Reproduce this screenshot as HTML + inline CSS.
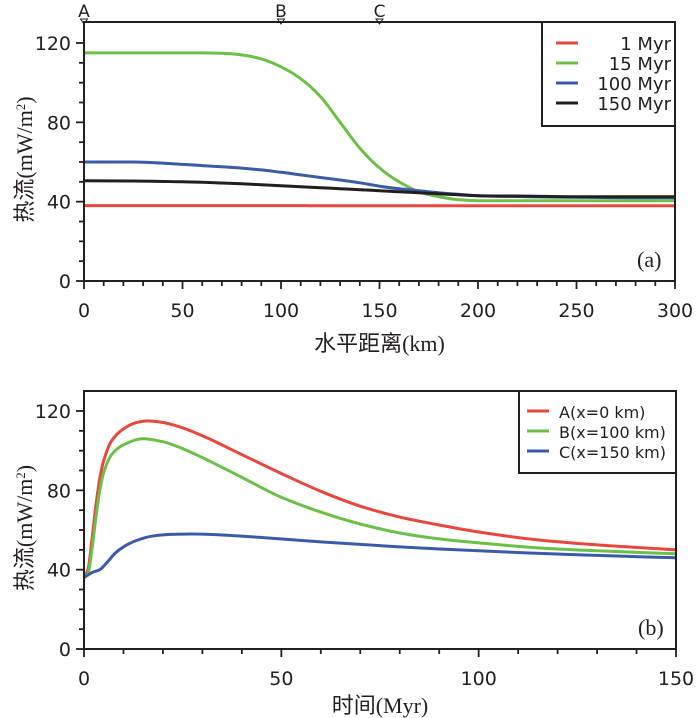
<!DOCTYPE html>
<html><head><meta charset="utf-8"><style>
body{margin:0;background:#fff;}
svg{display:block;}
text{font-family:"DejaVu Sans","Liberation Sans","Noto Sans CJK SC",sans-serif;fill:#231f20;}
text.serif{font-family:"Liberation Serif","Noto Sans CJK SC",serif;}
</style></head><body>
<svg id="fig" width="700" height="718" viewBox="0 0 700 718" xmlns="http://www.w3.org/2000/svg"></svg>
<script>
// ---- Panel (a) data ----
const aDistKm = [0,25,50,60,70,80,90,100,110,120,130,140,150,160,170,180,190,200,225,250,275,300];
const a1Myr   = [38,38,38,38,38,38,38,38,38,37.9,37.9,37.9,37.9,37.9,37.9,37.9,37.9,37.9,37.9,37.9,37.9,37.9];
const a15Myr  = [115,115,115,115,114.8,114,112,108,102,93,80,67,57,50,45,42.5,41,40.5,40.5,40.5,40.5,40.5];
const a100Myr = [60,60,58.8,58.2,57.6,56.9,56,54.8,53.5,52.2,50.9,49.5,47.8,46.5,45.5,44.5,43.7,43,42.5,42.2,42,42];
const a150Myr = [50.5,50.4,50,49.8,49.4,49,48.5,48,47.5,47,46.5,46,45.5,45,44.5,44,43.5,43,42.8,42.5,42.5,42.5];
const aSeries = [["1 Myr",a1Myr,"#e8473f"],["15 Myr",a15Myr,"#6cc04a"],["100 Myr",a100Myr,"#3a5ca8"],["150 Myr",a150Myr,"#231f20"]];
const aXTicks = [0,50,100,150,200,250,300];
const aYTicks = [0,40,80,120];
const markers = [["A",0],["B",100],["C",150]];
// ---- Panel (b) data ----
const bTimeA = [0,1,2,3,4,5,7,10,13,16,20,25,30,40,50,60,70,80,90,100,115,130,150];
const bA     = [36,40,55,72,86,95,105,111,114,115,114.2,111.5,107.5,98,88.5,79.5,72,66.5,62.5,59,55,52.5,50];
const bTimeB = [0,1,2,3,4,5,7,10,15,20,25,30,40,50,60,70,80,90,100,115,130,150];
const bB     = [36,38,50,66,80,89,98,103,106,104.5,101,96.5,86.5,76.5,69,63,58.5,55.5,53.5,51,49.5,48];
const bTimeC = [0,2,4,6,8,10,13,17,22,28,35,45,60,80,100,125,150];
const bC     = [36,38.5,40,44,48.5,51.5,54.5,56.8,57.8,58,57.5,56.2,54,51.5,49.5,47.5,46];
const bSeries = [["A(x=0 km)",bTimeA,bA,"#e8473f"],["B(x=100 km)",bTimeB,bB,"#6cc04a"],["C(x=150 km)",bTimeC,bC,"#3a5ca8"]];
const bXTicks = [0,50,100,150];
const bYTicks = [0,40,80,120];

const NS="http://www.w3.org/2000/svg";
const svg=document.getElementById('fig');
function el(tag,attrs,parent){const e=document.createElementNS(NS,tag);for(const k in attrs)e.setAttribute(k,attrs[k]);(parent||svg).appendChild(e);return e;}
function txt(s,attrs,parent){const t=el('text',attrs,parent);t.textContent=s;return t;}
function monoPath(pts){
  const n=pts.length, dx=[], m=[], t=new Array(n);
  for(let i=0;i<n-1;i++){dx[i]=pts[i+1][0]-pts[i][0];m[i]=(pts[i+1][1]-pts[i][1])/dx[i];}
  t[0]=m[0];t[n-1]=m[n-2];
  for(let i=1;i<n-1;i++){ if(m[i-1]*m[i]<=0) t[i]=0; else { const w1=2*dx[i]+dx[i-1], w2=dx[i]+2*dx[i-1]; t[i]=(w1+w2)/(w1/m[i-1]+w2/m[i]); } }
  let d="M"+pts[0][0].toFixed(1)+","+pts[0][1].toFixed(1);
  for(let i=0;i<n-1;i++){
    const h=dx[i]/3;
    d+=" C"+(pts[i][0]+h).toFixed(1)+","+(pts[i][1]+t[i]*h).toFixed(1)+" "+(pts[i+1][0]-h).toFixed(1)+","+(pts[i+1][1]-t[i+1]*h).toFixed(1)+" "+pts[i+1][0].toFixed(1)+","+pts[i+1][1].toFixed(1);
  }
  return d;
}
function panel(cfg){
  const g=el('g',{});
  
  
  const {L,R,T,B,xmax,ymax}=cfg;
  const yTop=cfg.yAt120;
  const sx=v=>L+(R-L)*v/xmax;
  const sy=v=>B-(B-yTop)*v/ymax;
  cfg.series.forEach(s=>{
    const pts=s.x.map((xv,i)=>[sx(xv),sy(s.y[i])]);
    const p=el('path',{d:monoPath(pts),fill:'none',stroke:s.color,'stroke-width':3,'stroke-linejoin':'round'},g);
    
    
  });
  const fr=el('rect',{x:L,y:T,width:R-L,height:B-T,fill:'none',stroke:'#231f20','stroke-width':2},g);
  
  
  for(let v=0;v<=xmax+1e-9;v+=cfg.xMinor){
    const major=cfg.xTicks.includes(v);
    el('line',{x1:sx(v),x2:sx(v),y1:B,y2:B+(major?8:5),stroke:'#231f20','stroke-width':1.8},g);
  }
  cfg.xTicks.forEach(v=>{
    const t=txt(String(v),{x:sx(v),y:B+36,'font-size':19,'text-anchor':'middle'},g);
    
    
  });
  for(let v=0;v<=ymax+1e-9;v+=10){
    const major=cfg.yTicks.includes(v);
    el('line',{x1:L,x2:L-(major?8:5),y1:sy(v),y2:sy(v),stroke:'#231f20','stroke-width':1.8},g);
  }
  cfg.yTicks.forEach(v=>{
    const t=txt(String(v),{x:L-13,y:sy(v)+7,'font-size':19,'text-anchor':'end'},g);
    
    
  });
  const yt=txt('',{transform:`translate(32,${(T+B)/2+8}) rotate(-90)`,'font-size':22,'text-anchor':'middle','class':'serif'},g);
  yt.innerHTML='热流(mW/m<tspan baseline-shift="super" font-size="13">2</tspan>)';
  
  
  const xt=txt(cfg.xTitle,{x:(L+R)/2,y:cfg.xTitleY,'font-size':22,'text-anchor':'middle','class':'serif'},g);
  
  
  const pl=txt(cfg.tag,{x:R-38,y:B-14,'font-size':22,'class':'serif'},g);
  
  
  const lg=el('g',{},g);
  
  
  el('rect',{x:cfg.legX,y:T,width:R-cfg.legX,height:cfg.legH,fill:'#fff',stroke:'#231f20','stroke-width':2},lg);
  cfg.series.forEach((s,i)=>{
    const y=T+cfg.legRow0+i*cfg.legRowH;
    const e=el('g',{},lg);
    
    
    el('line',{x1:cfg.legX+cfg.legLineX,x2:cfg.legX+cfg.legLineX+22,y1:y,y2:y,stroke:s.color,'stroke-width':3},e);
    txt(s.label,{x:cfg.legTextX,y:y+7,'font-size':cfg.legFont,'text-anchor':cfg.legAnchor},e);
  });
  return {sx,sy,g};
}
const A=panel({name:'panel-a',L:84,R:675,T:22,B:281,yAt120:43,xmax:300,ymax:120,xMinor:10,
  xTicks:aXTicks,yTicks:aYTicks,xTitle:'水平距离(km)',xTitleY:351,tag:'(a)',
  series:aSeries.map(s=>({label:s[0],x:aDistKm,y:s[1],color:s[2],dname:'line-'+s[0].replace(' ','-').toLowerCase()})),
  legX:542,legH:104,legRow0:21,legRowH:20,legLineX:14,legTextX:671,legAnchor:'end',legFont:18});
markers.forEach(m=>{
  const x=A.sx(m[1]);
  const g=el('g',{});
  
  
  txt(m[0],{x:x,y:17,'font-size':17,'text-anchor':'middle'},g);
  el('path',{d:`M${x-3.5},19 L${x+3.5},19 L${x},24 Z`,fill:'none',stroke:'#231f20','stroke-width':1},g);
});
panel({name:'panel-b',L:84,R:676,T:391,B:649,yAt120:411,xmax:150,ymax:120,xMinor:10,
  xTicks:bXTicks,yTicks:bYTicks,xTitle:'时间(Myr)',xTitleY:713,tag:'(b)',
  series:bSeries.map(s=>({label:s[0],x:s[1],y:s[2],color:s[3],dname:'line-'+s[0][0].toLowerCase()})),
  legX:519,legH:82,legRow0:20,legRowH:20,legLineX:8,legTextX:559,legAnchor:'start',legFont:16});
</script>
</body></html>
